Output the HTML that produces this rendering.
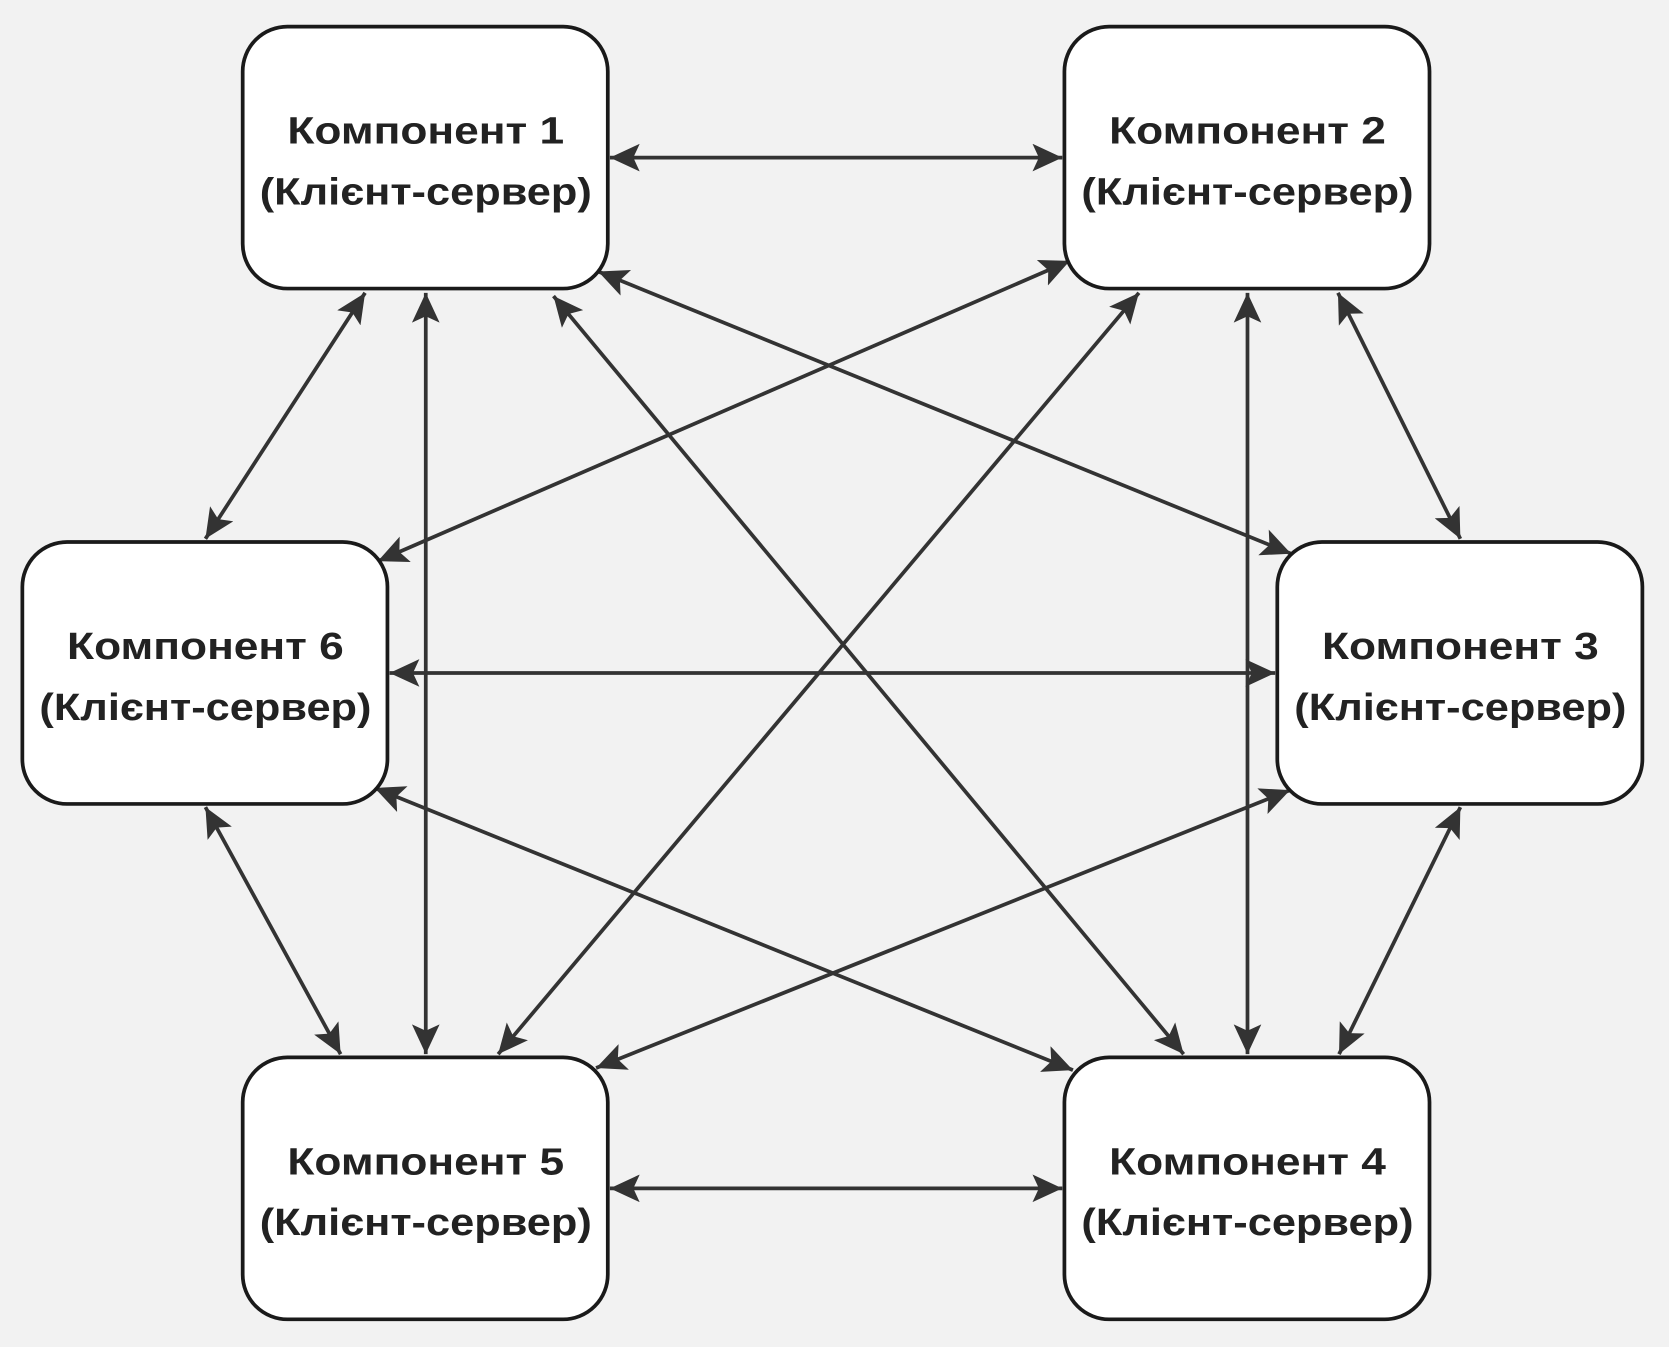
<!DOCTYPE html>
<html><head><meta charset="utf-8"><style>
html,body{margin:0;padding:0;background:#f2f2f2;}
svg{display:block;}
text{font-family:"Liberation Sans",sans-serif;font-weight:bold;font-size:36px;fill:#222;}
</style></head><body>
<svg width="1669" height="1347" viewBox="0 0 1568 1265" preserveAspectRatio="none">
<defs>
<marker id="a" markerUnits="userSpaceOnUse" markerWidth="32" markerHeight="28" refX="28" refY="13" orient="auto-start-reverse">
<path d="M0,0 L28,13 L0,26 L6,13 Z" fill="#333"/>
</marker>
</defs>
<rect width="1568" height="1265" fill="#f2f2f2"/>
<g stroke="#333" stroke-width="3.5" fill="none" marker-start="url(#a)" marker-end="url(#a)">
<line x1="573" y1="148" x2="998" y2="148"/>
<line x1="343" y1="275" x2="193" y2="506"/>
<line x1="400" y1="275" x2="400" y2="990"/>
<line x1="520" y1="278" x2="1112" y2="990"/>
<line x1="562" y1="255" x2="1213" y2="520"/>
<line x1="1005" y1="245" x2="355" y2="527"/>
<line x1="1070" y1="275" x2="468" y2="990"/>
<line x1="1172" y1="275" x2="1172" y2="990"/>
<line x1="1257" y1="275" x2="1372" y2="506"/>
<line x1="366" y1="632" x2="1198" y2="632"/>
<line x1="193" y1="758" x2="320" y2="990"/>
<line x1="352" y1="740" x2="1008" y2="1005"/>
<line x1="1212" y1="742" x2="560" y2="1003"/>
<line x1="1372" y1="758" x2="1258" y2="990"/>
<line x1="573" y1="1116" x2="998" y2="1116"/>
</g>
<g fill="#fff" stroke="#1a1a1a" stroke-width="3.5">
<rect x="228" y="25" width="343" height="246" rx="42"/>
<rect x="1000" y="25" width="343" height="246" rx="42"/>
<rect x="21" y="509" width="343" height="246" rx="42"/>
<rect x="1200" y="509" width="343" height="246" rx="42"/>
<rect x="228" y="993" width="343" height="246" rx="42"/>
<rect x="1000" y="993" width="343" height="246" rx="42"/>
</g>
<g text-anchor="middle">
<text x="400" y="135" textLength="260" lengthAdjust="spacingAndGlyphs">Компонент 1</text><text x="400" y="192" textLength="312" lengthAdjust="spacingAndGlyphs">(Клієнт-сервер)</text>
<text x="1172" y="135" textLength="260" lengthAdjust="spacingAndGlyphs">Компонент 2</text><text x="1172" y="192" textLength="312" lengthAdjust="spacingAndGlyphs">(Клієнт-сервер)</text>
<text x="193" y="619" textLength="260" lengthAdjust="spacingAndGlyphs">Компонент 6</text><text x="193" y="676" textLength="312" lengthAdjust="spacingAndGlyphs">(Клієнт-сервер)</text>
<text x="1372" y="619" textLength="260" lengthAdjust="spacingAndGlyphs">Компонент 3</text><text x="1372" y="676" textLength="312" lengthAdjust="spacingAndGlyphs">(Клієнт-сервер)</text>
<text x="400" y="1103" textLength="260" lengthAdjust="spacingAndGlyphs">Компонент 5</text><text x="400" y="1160" textLength="312" lengthAdjust="spacingAndGlyphs">(Клієнт-сервер)</text>
<text x="1172" y="1103" textLength="260" lengthAdjust="spacingAndGlyphs">Компонент 4</text><text x="1172" y="1160" textLength="312" lengthAdjust="spacingAndGlyphs">(Клієнт-сервер)</text>
</g>
</svg>
</body></html>
